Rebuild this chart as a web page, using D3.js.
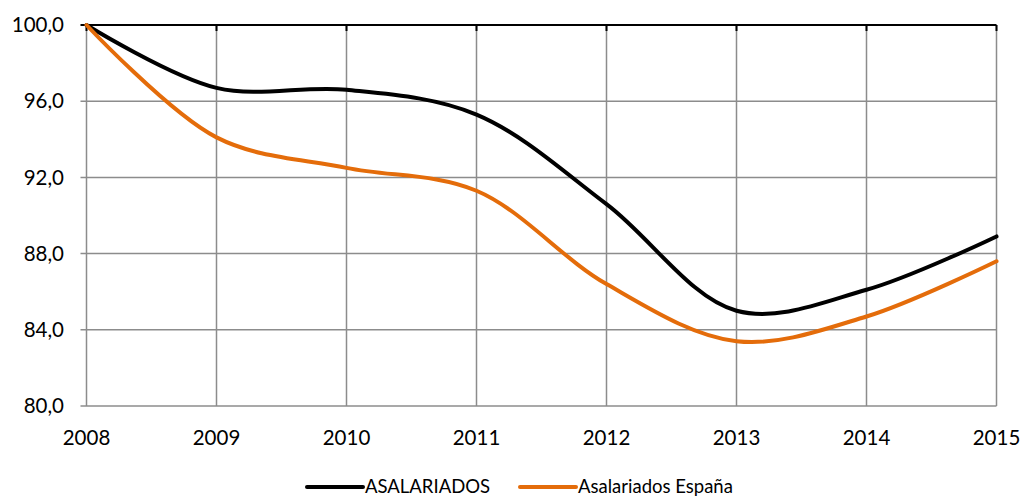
<!DOCTYPE html>
<html>
<head>
<meta charset="utf-8">
<script src="https://cdn.jsdelivr.net/npm/d3@7"></script>
<style>
  body { margin: 0; background: #fff; }
  svg { display: block; font-family: Lato, "Open Sans", sans-serif; }
</style>
</head>
<body>
<svg id="chart" width="1023" height="497"></svg>
<script>
// years on the category axis
const years = ['2008', '2009', '2010', '2011', '2012', '2013', '2014', '2015'];
// index 2008 = 100
const asalariados = [100.0, 96.7, 96.6, 95.3, 90.6, 85.0, 86.1, 88.9];
const asalariadosEspana = [100.0, 94.1, 92.5, 91.3, 86.4, 83.4, 84.7, 87.6];
const yTicks = [80, 84, 88, 92, 96, 100];

const series = [
    { name: 'ASALARIADOS', values: asalariados, color: '#000000' },
    { name: 'Asalariados España', values: asalariadosEspana, color: '#e46c0a' },
];

const svg = d3.select('#chart');
const plotLeft = 86.5, plotRight = 996.5, plotTop = 25, plotBottom = 406;

const x = d3.scalePoint().domain(years).range([plotLeft, plotRight]);
const y = d3.scaleLinear().domain([80, 100]).range([plotBottom, plotTop]);
const fmt = (d) => d3.format('.1f')(d).replace('.', ',');

// grid lines
const grid = svg.append('g').attr('stroke', '#8c8c8c').attr('stroke-width', 1.5);
grid.selectAll('line.h')
    .data(yTicks.filter(d => d < 100))
    .join('line')
    .attr('x1', plotLeft - 6).attr('x2', plotRight)
    .attr('y1', d => y(d)).attr('y2', d => y(d));
grid.selectAll('line.v')
    .data(years)
    .join('line')
    .attr('x1', d => x(d)).attr('x2', d => x(d))
    .attr('y1', plotTop).attr('y2', plotBottom);

// category axis line crossing at 100 (black with inner ticks)
const topAxis = svg.append('g').attr('stroke', '#000').attr('stroke-width', 2);
topAxis.append('line')
    .attr('x1', plotLeft - 6).attr('x2', plotRight)
    .attr('y1', y(100)).attr('y2', y(100));
topAxis.selectAll('line.t')
    .data(years)
    .join('line')
    .attr('x1', d => x(d)).attr('x2', d => x(d))
    .attr('y1', y(100)).attr('y2', y(100) + 6);

// y labels
svg.append('g')
    .selectAll('text')
    .data(yTicks)
    .join('text')
    .attr('x', 64)
    .attr('y', d => y(d))
    .attr('dy', '0.35em')
    .attr('text-anchor', 'end')
    .attr('font-size', 20.5)
    .attr('fill', '#000')
    .text(fmt);

// x labels
svg.append('g')
    .selectAll('text')
    .data(years)
    .join('text')
    .attr('x', d => x(d))
    .attr('y', 445)
    .attr('text-anchor', 'middle')
    .attr('font-size', 20.5)
    .attr('fill', '#000')
    .text(d => d);

// lines
const line = d3.line()
    .x((d, i) => x(years[i]))
    .y(d => y(d))
    .curve(d3.curveCatmullRom.alpha(0.5));

svg.append('g')
    .selectAll('path')
    .data(series)
    .join('path')
    .attr('fill', 'none')
    .attr('stroke', d => d.color)
    .attr('stroke-width', 4)
    .attr('stroke-linecap', 'round')
    .attr('d', d => line(d.values));

// legend
const legendPos = [307, 520];
const legend = svg.append('g')
    .selectAll('g')
    .data(series)
    .join('g')
    .attr('transform', (d, i) => `translate(${legendPos[i]},487)`);
legend.append('line')
    .attr('x1', 0).attr('x2', 56)
    .attr('stroke', d => d.color)
    .attr('stroke-width', 4)
    .attr('stroke-linecap', 'round');
legend.append('text')
    .attr('x', 58)
    .attr('y', 6)
    .attr('font-size', 18.5)
    .attr('fill', '#000')
    .text(d => d.name);
</script>
</body>
</html>
